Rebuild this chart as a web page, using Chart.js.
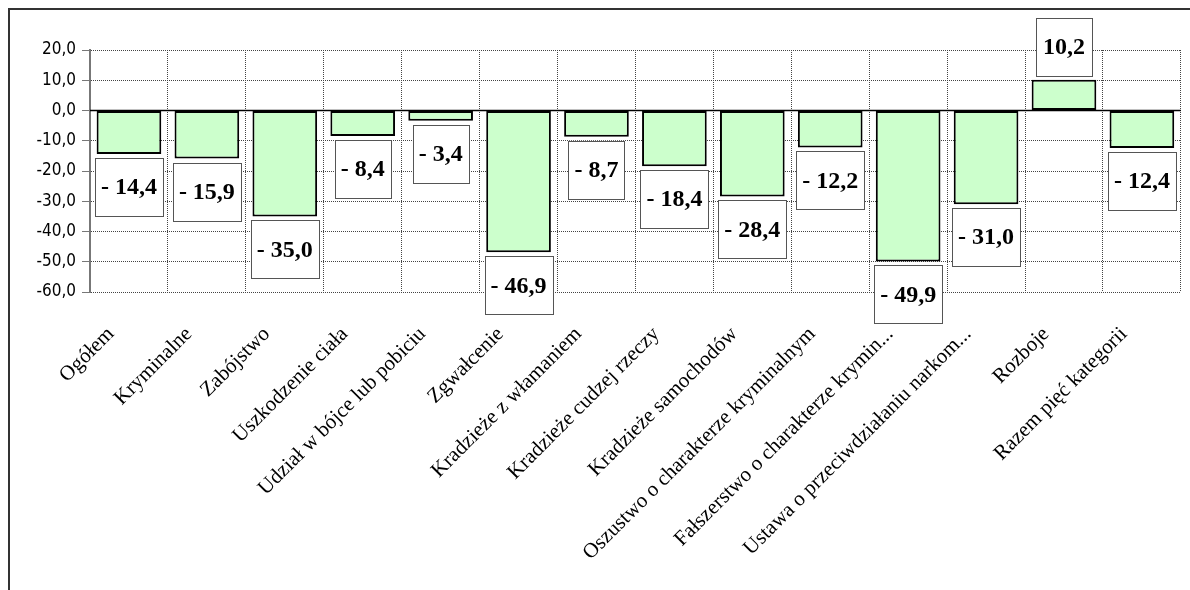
<!DOCTYPE html>
<html>
<head>
<meta charset="utf-8">
<script src="https://cdn.jsdelivr.net/npm/chart.js@4"></script>
<style>
  html, body { margin: 0; padding: 0; background: #fff; }
  #wrap { width: 1190px; height: 590px; position: relative; }
</style>
</head>
<body>
<div id="wrap"><canvas id="BarChart"></canvas></div>
<script>
const categories = [
    'Ogółem', 'Kryminalne', 'Zabójstwo', 'Uszkodzenie ciała', 'Udział w bójce lub pobiciu',
    'Zgwałcenie', 'Kradzieże z włamaniem', 'Kradzieże cudzej rzeczy', 'Kradzieże samochodów',
    'Oszustwo o charakterze kryminalnym', 'Fałszerstwo o charakterze krymin...',
    'Ustawa o przeciwdziałaniu narkom...', 'Rozboje', 'Razem pięć kategorii'
];
const values = [-14.4, -15.9, -35.0, -8.4, -3.4, -46.9, -8.7, -18.4, -28.4, -12.2, -49.9, -31.0, 10.2, -12.4];
const yTicks = [20, 10, 0, -10, -20, -30, -40, -50, -60];

const fmt = (v) => v.toFixed(1).replace('.', ',');

// outer frame + zero line + boxed value labels
const extras = {
    id: 'extras',
    beforeDraw(chart) {
        const c = chart.ctx;
        c.save();
        c.fillStyle = '#fff';
        c.fillRect(0, 0, chart.width, chart.height);
        c.strokeStyle = '#333';
        c.lineWidth = 2;
        c.strokeRect(9, 9, 1400, 1000);
        c.restore();
    },
    beforeDatasetsDraw(chart) {
        const c = chart.ctx;
        const y0 = chart.scales.y.getPixelForValue(0);
        c.save();
        c.strokeStyle = '#000';
        c.lineWidth = 1.5;
        c.beginPath();
        c.moveTo(chart.chartArea.left, y0);
        c.lineTo(chart.chartArea.right, y0);
        c.stroke();
        c.restore();
    },
    afterDatasetsDraw(chart) {
        const c = chart.ctx;
        const meta = chart.getDatasetMeta(0);
        c.save();
        c.font = 'bold 24px "Liberation Serif", serif';
        c.textAlign = 'center';
        c.textBaseline = 'middle';
        meta.data.forEach((bar, i) => {
            const v = values[i];
            const txt = fmt(v).replace('-', '- ');
            const w = Math.max(c.measureText(txt).width + 12, 56);
            const h = 58;
            const top = v < 0 ? bar.y + 4 : bar.y - 4 - h;
            const left = Math.round(bar.x - w / 2);
            c.fillStyle = '#fff';
            c.fillRect(left, top, w, h);
            c.strokeStyle = '#555';
            c.lineWidth = 1;
            c.strokeRect(left + 0.5, Math.round(top) + 0.5, w, h);
            c.fillStyle = '#000';
            c.fillText(txt, bar.x, top + h / 2 + 1);
        });
        c.restore();
    }
};

const ctx = document.getElementById('BarChart');

new Chart(ctx, {
    type: 'bar',
    data: {
        labels: categories,
        datasets: [{
            data: values,
            backgroundColor: '#ccffcc',
            borderColor: '#000',
            borderWidth: 2,
            borderSkipped: false,
            categoryPercentage: 0.83,
            barPercentage: 1
        }]
    },
    options: {
        responsive: true,
        maintainAspectRatio: false,
        animation: false,
        devicePixelRatio: 1,
        layout: { padding: { top: 50, right: 8, left: 0, bottom: 0 } },
        plugins: {
            legend: { display: false },
            tooltip: { enabled: false }
        },
        scales: {
            x: {
                offset: true,
                afterFit(scale) { scale.height = 298; },
                grid: {
                    offset: true,
                    color: '#444',
                    lineWidth: 1,
                    drawTicks: false
                },
                border: { display: false, dash: [1, 1] },
                ticks: {
                    minRotation: 45,
                    maxRotation: 45,
                    autoSkip: false,
                    padding: 30,
                    labelOffset: -18,
                    color: '#000',
                    font: { family: '"Liberation Serif", serif', size: 21 }
                }
            },
            y: {
                min: -60,
                max: 20,
                afterFit(scale) { scale.width = 90; },
                afterBuildTicks(scale) { scale.ticks = yTicks.map(v => ({ value: v })); },
                grid: {
                    color: '#444',
                    lineWidth: 1,
                    tickLength: 8,
                    tickColor: '#777',
                    tickBorderDash: []
                },
                border: { display: true, color: '#777', width: 2, dash: [1, 1] },
                ticks: {
                    padding: 6,
                    color: '#000',
                    font: { family: '"DejaVu Sans Condensed", "Liberation Sans", sans-serif', size: 17 },
                    callback: (v) => fmt(v)
                }
            }
        }
    },
    plugins: [extras]
});
</script>
</body>
</html>
